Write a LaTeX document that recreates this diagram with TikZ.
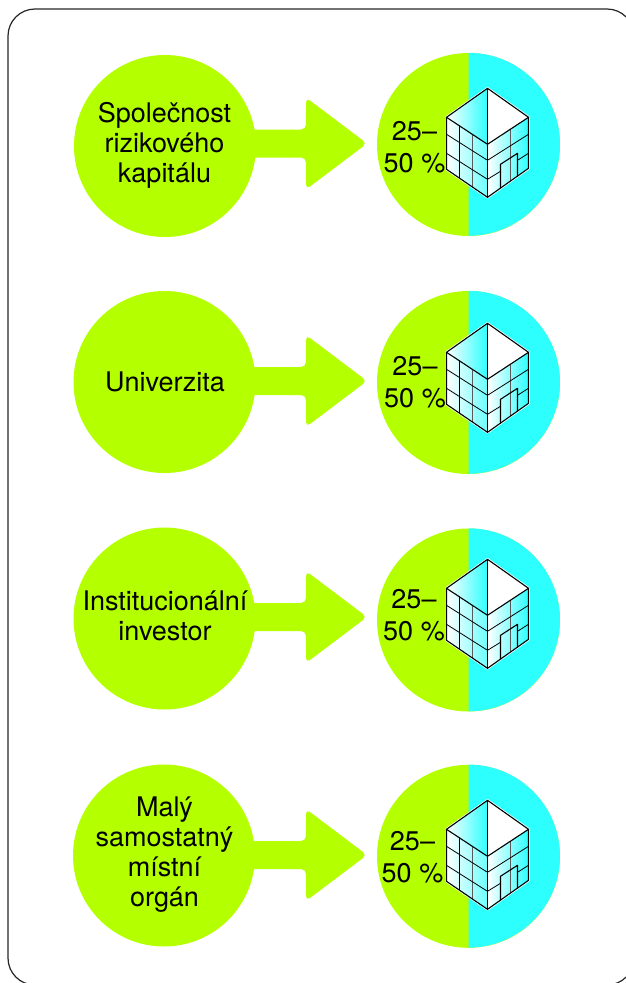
\documentclass[tikz,border=0pt]{standalone}
\usepackage{fontspec}
\setmainfont{TeX Gyre Heros}
\usepackage{tikz}
\usetikzlibrary{shapes, arrows}
\definecolor{limefill}{HTML}{B4FF00}
\definecolor{aquafill}{HTML}{2DFFFF}
\tikzstyle{frame} = [draw=black!85,line width=1.2pt,rounded corners=27pt]
\tikzstyle{org} = [circle,minimum size=182pt,inner sep=0pt,fill=limefill]
\tikzstyle{pie} = [circle,minimum size=183pt,inner sep=0pt,fill=limefill]
\tikzstyle{caption} = [align=center,inner sep=0pt,font=\fontsize{27}{30}\selectfont]
\tikzstyle{share} = [align=center,inner sep=0pt,font=\fontsize{27}{32}\selectfont]
\tikzstyle{bigarrow} = [fill=limefill,rounded corners=5pt]
\tikzstyle{edge} = [draw=black,line width=1.1pt,line join=round]
\tikzstyle{glass} = [draw=black,line width=.8pt,line join=round]
\tikzstyle{mullion} = [draw=black!65,line width=1pt]
% half of the pie in cyan
\newcommand{\halfpie}[1]{\fill [aquafill] (#1.north) arc (90:-90:91.5pt) -- cycle;}
% fat arrow from a circle to its tip
\newcommand{\fatarrow}[2]{\fill [bigarrow] (#2) -- ++(-61,-46) -- ++(0,32) -- ++(-130,0) -- ++(0,28) -- ++(130,0) -- ++(0,32) -- cycle;}
% office block, given by its top corner
\newcommand{\officeblock}[2]{
	\begin{scope}[shift={(#1,#2)}]
		\draw [white,line width=2.5pt,line join=round] (0,0) -- (41,29) -- (41,80) -- (0,109) -- (-41,81) -- (-41,29) -- cycle;
		\shade [left color=white,middle color=white,right color=aquafill] (0,0) -- (0,56) -- (-41,29) -- cycle;
		\fill [white] (0,0) -- (41,29) -- (0,56) -- cycle;
		\shade [left color=white,right color=aquafill!70] (-41,29) -- (0,56) -- (0,109) -- (-41,81) -- cycle;
		\shade [left color=white,middle color=white!85!aquafill,right color=aquafill] (0,56) -- (41,29) -- (41,80) -- (0,109) -- cycle;
		%glazing
		\draw [glass] (-28,37) -- (-28,90);
		\draw [mullion] (-15,46) -- (-15,99);
		\draw [mullion] (23,41) -- (23,93);
		\draw [glass] (-41,46) -- (0,72) -- (41,46);
		\draw [glass] (-41,65) -- (0,91) -- (13,83);
		\draw [glass] (30,72) -- (41,65);
		%door
		\draw [edge] (13,100) -- (13,76) -- (30,65) -- (30,88);
		%outline
		\draw [edge] (0,0) -- (41,29) -- (41,80) -- (0,109) -- (-41,81) -- (-41,29) -- cycle;
		\draw [edge] (-41,29) -- (0,56) -- (41,29);
		\draw [edge] (0,0) -- (0,109);
	\end{scope}
}

\begin{document}
\begin{tikzpicture}[x=1pt,y=-1pt]
	\useasboundingbox (0,0) rectangle (626,983);
	\clip (0,0) rectangle (626,983);
	\draw [frame] (8,9) rectangle (634,985);

	\coordinate (tipa) at (367,143.5);
	\coordinate (tipb) at (367,381);
	\coordinate (tipc) at (367,617);
	\coordinate (tipd) at (367,855);

	\fatarrow{orga}{tipa}
	\fatarrow{orgb}{tipb}
	\fatarrow{orgc}{tipc}
	\fatarrow{orgd}{tipd}

	\node (orga) [org] at (165,146) {};
	\node (orgb) [org] at (164.5,382) {};
	\node (orgc) [org] at (164.5,618.5) {};
	\node (orgd) [org] at (164,855.5) {};

	\node (capa) [caption] at (164.5,145) {Společnost\\rizikového\\kapitálu};
	\node (capb) [caption] at (165,382) {Univerzita};
	\node (capc) [caption] at (165,616) {Institucionální\\investor};
	\node (capd) [caption] at (164.5,855) {Malý\\samostatný\\místní\\orgán};

	\node (piea) [pie] at (468.5,144.5) {};
	\node (pieb) [pie] at (468.5,382.5) {};
	\node (piec) [pie] at (468.5,620) {};
	\node (pied) [pie] at (468.5,856.3) {};
	\halfpie{piea}
	\halfpie{pieb}
	\halfpie{piec}
	\halfpie{pied}

	\officeblock{487.5}{88.3}
	\officeblock{487.5}{323.3}
	\officeblock{487.5}{559.3}
	\officeblock{487.5}{800.3}

	\node (sharea) [share] at (414.5,147) {25–\\50 \%};
	\node (shareb) [share] at (415,382) {25–\\50 \%};
	\node (sharec) [share] at (414,615.5) {25–\\50 \%};
	\node (shared) [share] at (412.5,857) {25–\\50 \%};
\end{tikzpicture}
\end{document}
